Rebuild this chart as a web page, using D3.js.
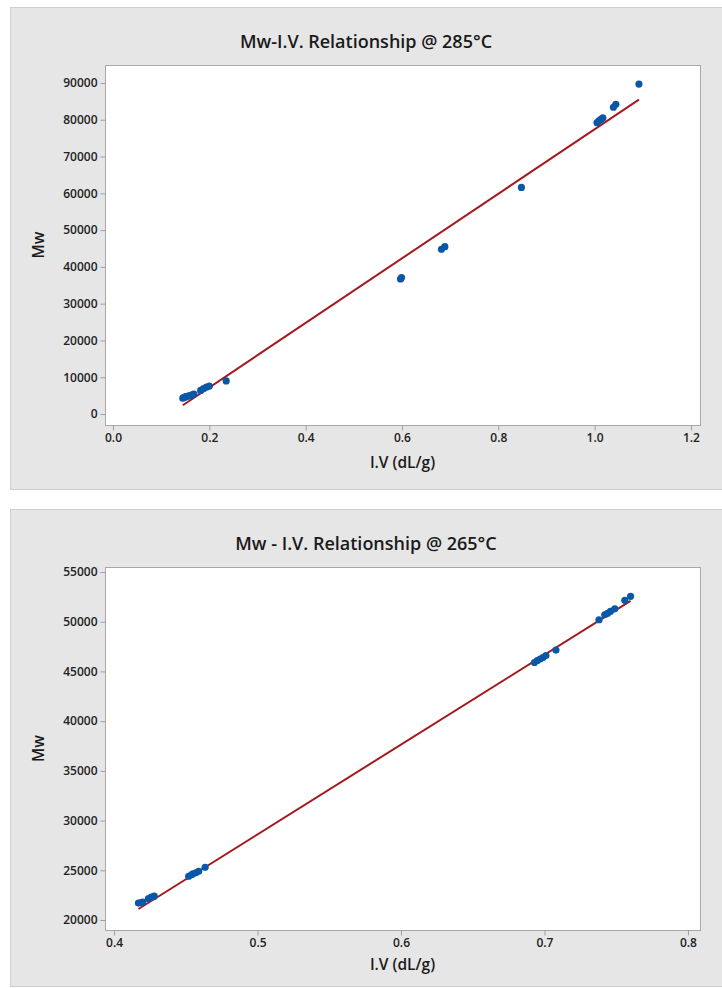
<!DOCTYPE html>
<html><head><meta charset="utf-8">
<script src="https://cdn.jsdelivr.net/npm/d3@7"></script>
<style>body{margin:0;background:#fff;} svg{display:block;font-family:"Open Sans","Noto Sans",sans-serif;}</style>
</head><body>
<svg id="c" width="722" height="988"></svg>
<script>
// ---- Chart 1: 285°C ----
const iv285 = [0.145,0.148,0.151,0.154,0.157,0.160,0.164,0.168,0.182,0.188,0.194,0.200,0.235,0.597,0.599,0.682,0.689,0.848,1.005,1.009,1.013,1.017,1.039,1.044,1.092];
const mw285 = [4300,4500,4700,4800,4900,5000,5200,5400,6400,6900,7300,7600,9000,36700,37100,44800,45500,61600,79200,79700,80100,80500,83400,84200,89700];
const fit285 = {slope: 87750, intercept: -10333};
const xTicks285 = [0.0,0.2,0.4,0.6,0.8,1.0,1.2];
const yTicks285 = [0,10000,20000,30000,40000,50000,60000,70000,80000,90000];

// ---- Chart 2: 265°C ----
const iv265 = [0.417,0.419,0.420,0.424,0.426,0.428,0.452,0.454,0.455,0.457,0.459,0.4635,0.693,0.695,0.697,0.699,0.701,0.708,0.738,0.742,0.744,0.746,0.749,0.756,0.760];
const mw265 = [21700,21750,21800,22150,22300,22400,24400,24550,24650,24750,24900,25300,45900,46100,46250,46400,46600,47150,50200,50700,50850,51050,51300,52150,52550];
const fit265 = {slope: 90360, intercept: -16573};
const xTicks265 = [0.4,0.5,0.6,0.7,0.8];
const yTicks265 = [20000,25000,30000,35000,40000,45000,50000,55000];

const svg = d3.select("#c");

function panel(cfg){
  const g = svg.append("g");
  g.append("rect").attr("x",cfg.px+0.5).attr("y",cfg.py+0.5).attr("width",cfg.pw).attr("height",cfg.ph)
    .attr("fill","#e6e6e6").attr("stroke","#cfcfcf");
  g.append("text").attr("x",cfg.px+cfg.pw/2-4).attr("y",cfg.titleY).attr("text-anchor","middle")
    .attr("font-size",18).attr("font-weight",600).attr("fill","#1a1a1a").text(cfg.title);
  const x = d3.scaleLinear().domain(cfg.xd).range([cfg.l,cfg.r]);
  const y = d3.scaleLinear().domain(cfg.yd).range([cfg.b,cfg.t]);
  g.append("rect").attr("x",cfg.l+0.5).attr("y",cfg.t+0.5).attr("width",cfg.r-cfg.l).attr("height",cfg.b-cfg.t)
    .attr("fill","#fff").attr("stroke","#a8a8a8");
  const xa = g.append("g").attr("transform",`translate(0,${cfg.b+0.5})`)
    .call(d3.axisBottom(x).tickValues(cfg.xt).tickFormat(d3.format(".1f")).tickSize(5).tickSizeOuter(0).tickPadding(3));
  const ya = g.append("g").attr("transform",`translate(${cfg.l+0.5},0)`)
    .call(d3.axisLeft(y).tickValues(cfg.yt).tickFormat(d3.format("d")).tickSize(5).tickSizeOuter(0).tickPadding(3));
  [xa,ya].forEach(a=>{
    a.select(".domain").remove();
    a.selectAll(".tick line").attr("stroke","#a0a0a0");
    a.selectAll(".tick text").attr("font-size",12).attr("font-weight",600).attr("fill","#222")
      .attr("font-family",'"Open Sans","Noto Sans",sans-serif');
  });
  g.append("text").attr("x",(cfg.l+cfg.r)/2).attr("y",cfg.xlabY).attr("text-anchor","middle")
    .attr("font-size",15.5).attr("font-weight",600).attr("fill","#1a1a1a").text("I.V (dL/g)");
  g.append("text").attr("transform",`translate(44,${(cfg.t+cfg.b)/2}) rotate(-90)`).attr("text-anchor","middle")
    .attr("font-size",15.5).attr("font-weight",600).attr("fill","#1a1a1a").text("Mw");
  const x0 = d3.min(cfg.iv), x1 = d3.max(cfg.iv);
  g.append("line").attr("x1",x(x0)).attr("y1",y(cfg.fit.slope*x0+cfg.fit.intercept))
    .attr("x2",x(x1)).attr("y2",y(cfg.fit.slope*x1+cfg.fit.intercept))
    .attr("stroke","#a31a1e").attr("stroke-width",2);
  g.append("g").selectAll("circle").data(cfg.iv.map((v,i)=>[v,cfg.mw[i]])).join("circle")
    .attr("cx",d=>x(d[0])).attr("cy",d=>y(d[1])).attr("r",3.6).attr("fill","#0a57a8");
}

panel({px:10,py:7,pw:720,ph:482,title:"Mw-I.V. Relationship @ 285°C",titleY:48,
  l:105,r:700,t:65,b:425,xd:[-0.0166,1.2188],yd:[-2990,94890],xt:xTicks285,yt:yTicks285,
  xlabY:468,iv:iv285,mw:mw285,fit:fit285});
panel({px:10,py:509,pw:720,ph:477,title:"Mw - I.V. Relationship @ 265°C",titleY:550,
  l:105,r:700,t:567,b:930,xd:[0.3937,0.8084],yd:[18994,55503],xt:xTicks265,yt:yTicks265,
  xlabY:970,iv:iv265,mw:mw265,fit:fit265});
</script>
</body></html>
